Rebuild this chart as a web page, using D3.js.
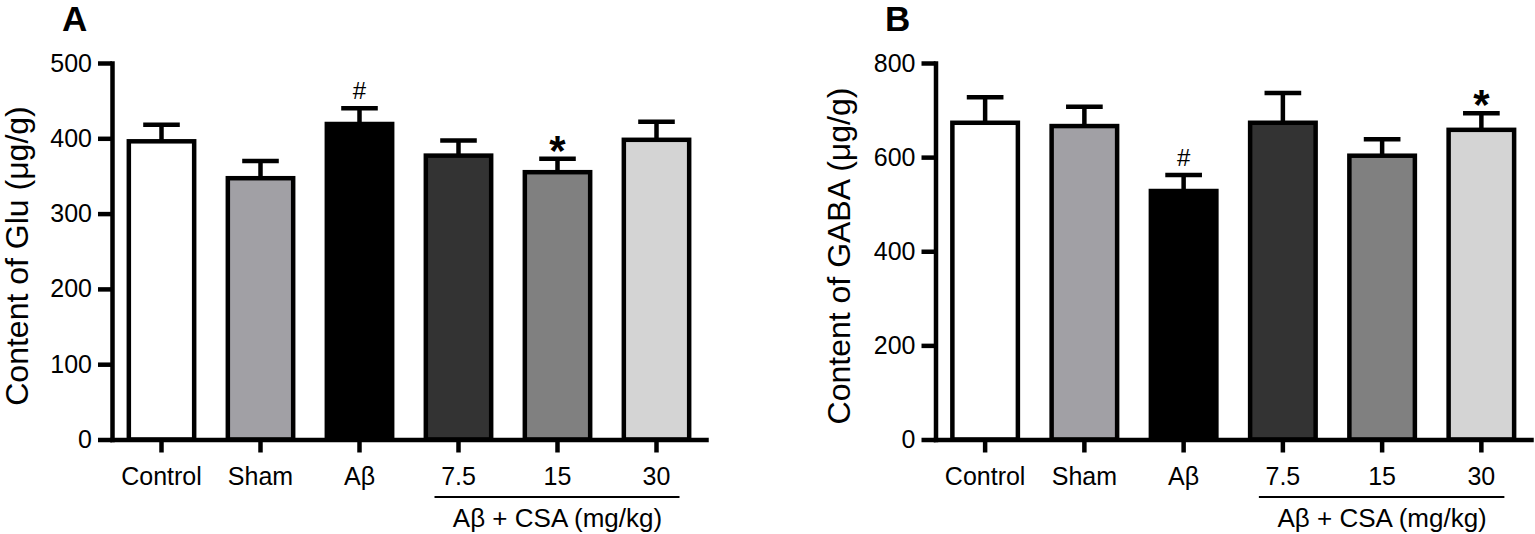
<!DOCTYPE html>
<html>
<head>
<meta charset="utf-8">
<script src="https://cdn.jsdelivr.net/npm/d3@7"></script>
<style>
  body { margin: 0; background: #fff; }
  svg text { font-family: "Liberation Sans", Arial, sans-serif; fill: #000; }
</style>
</head>
<body>
<div id="chart"></div>
<script>
// groups on the x axis
var groups = ["Control", "Sham", "Aβ", "7.5", "15", "30"];
var groupFills = ["#ffffff", "#a1a0a5", "#000000", "#333333", "#808080", "#d4d4d4"];

// panel A - Glu
var gluMean = [396, 347, 419, 377, 355, 398];
var gluSem = [22, 23, 21, 20, 18, 24];
var gluMarks = ["", "", "#", "", "*", ""];
var gluTicks = [0, 100, 200, 300, 400, 500];

// panel B - GABA
var gabaMean = [673, 666, 528, 673, 603, 658];
var gabaSem = [54, 41, 34, 63, 35, 35];
var gabaMarks = ["", "", "#", "", "", "*"];
var gabaTicks = [0, 200, 400, 600, 800];

var width = 1535;
var height = 534;

var svg = d3.select("#chart")
            .append("svg")
            .attr("width", width)
            .attr("height", height);

var color = d3.scaleOrdinal().domain(groups).range(groupFills);

drawPanel({
    letter: "A", letterX: 62,
    axisX: 112, endX: 706,
    labelX: 28,
    title: "Content of Glu (μg/g)",
    mean: gluMean, sem: gluSem, marks: gluMarks, ticks: gluTicks
});

drawPanel({
    letter: "B", letterX: 885,
    axisX: 935.5, endX: 1531,
    labelX: 850,
    title: "Content of GABA (μg/g)",
    mean: gabaMean, sem: gabaSem, marks: gabaMarks, ticks: gabaTicks
});

function drawPanel(p) {
    var lw = 4.5;
    var rows = groups.map(function (g, i) {
        return { name: g, mean: p.mean[i], sem: p.sem[i], mark: p.marks[i] };
    });

    var x = d3.scaleBand()
                .domain(groups)
                .range([p.axisX, p.endX])
                .paddingInner(0.34)
                .paddingOuter(0.17);

    var y = d3.scaleLinear()
                .domain([0, d3.max(p.ticks)])
                .range([439.5, 63]);

    var g = svg.append("g");

    // bars
    g.selectAll("rect.bar")
        .data(rows)
        .enter()
        .append("rect")
        .attr("class", "bar")
        .attr("x", function (d) { return x(d.name); })
        .attr("width", x.bandwidth())
        .attr("y", function (d) { return y(d.mean); })
        .attr("height", function (d) { return y(0) - y(d.mean); })
        .style("fill", function (d) { return color(d.name); })
        .style("stroke", "#000")
        .style("stroke-width", lw);

    // error bars (upper only)
    var capHalf = x.bandwidth() * 0.28;
    var err = g.selectAll("g.err")
                .data(rows)
                .enter()
                .append("g")
                .attr("class", "err")
                .attr("transform", function (d) {
                    return "translate(" + (x(d.name) + x.bandwidth() / 2) + ",0)";
                });

    err.append("line")
        .attr("x1", 0).attr("x2", 0)
        .attr("y1", function (d) { return y(d.mean); })
        .attr("y2", function (d) { return y(d.mean + d.sem); })
        .style("stroke", "#000")
        .style("stroke-width", lw);

    err.append("line")
        .attr("x1", -capHalf).attr("x2", capHalf)
        .attr("y1", function (d) { return y(d.mean + d.sem); })
        .attr("y2", function (d) { return y(d.mean + d.sem); })
        .style("stroke", "#000")
        .style("stroke-width", lw);

    // significance marks
    err.append("text")
        .style("text-anchor", "middle")
        .style("font-size", function (d) { return d.mark === "*" ? "42px" : "24px"; })
        .style("font-weight", function (d) { return d.mark === "*" ? "bold" : "normal"; })
        .attr("y", function (d) {
            return y(d.mean + d.sem) + (d.mark === "*" ? 6 : -9);
        })
        .text(function (d) { return d.mark; });

    // axes
    var yAxis = d3.axisLeft(y)
                    .tickValues(p.ticks)
                    .tickSize(14)
                    .tickSizeOuter(0)
                    .tickPadding(6)
                    .tickFormat(d3.format("d"));
    var xAxis = d3.axisBottom(x)
                    .tickSize(13)
                    .tickSizeOuter(0)
                    .tickPadding(15);

    var gx = g.append("g")
        .attr("class", "x axis")
        .attr("transform", "translate(0," + y(0) + ")")
        .call(xAxis);
    var gy = g.append("g")
        .attr("class", "y axis")
        .attr("transform", "translate(" + p.axisX + ",0)")
        .call(yAxis);

    [gx, gy].forEach(function (a) {
        a.selectAll("path.domain").style("stroke", "#000").style("stroke-width", lw).attr("stroke-linecap", "square");
        a.selectAll(".tick line").style("stroke", "#000").style("stroke-width", lw);
        a.selectAll(".tick text").style("font-size", "25px").style("fill", "#000")
            .style("font-family", "'Liberation Sans', Arial, sans-serif");
    });

    // bracket under the CSA doses
    var c1 = x("7.5") + x.bandwidth() / 2;
    var c2 = x("30") + x.bandwidth() / 2;
    g.append("line")
        .attr("x1", c1 - 24).attr("x2", c2 + 23)
        .attr("y1", 497).attr("y2", 497)
        .style("stroke", "#000")
        .style("stroke-width", 2);
    g.append("text")
        .style("text-anchor", "middle")
        .style("font-size", "26px")
        .attr("x", (c1 + c2) / 2)
        .attr("y", 527)
        .text("Aβ + CSA (mg/kg)");

    // y title
    g.append("text")
        .attr("transform", "rotate(-90)")
        .style("text-anchor", "middle")
        .style("font-size", "32px")
        .attr("x", -256)
        .attr("y", p.labelX)
        .text(p.title);

    // panel letter
    g.append("text")
        .style("font-size", "35px")
        .style("font-weight", "bold")
        .attr("x", p.letterX)
        .attr("y", 31)
        .text(p.letter);
}
</script>
</body>
</html>
